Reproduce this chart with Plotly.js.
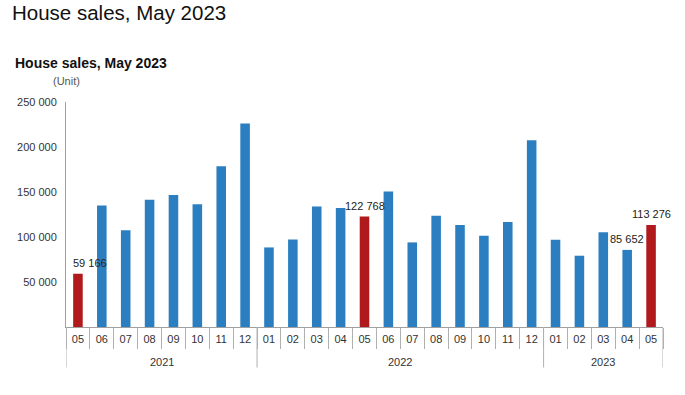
<!DOCTYPE html>
<html>
<head>
<meta charset="utf-8">
<script src="https://cdn.plot.ly/plotly-3.0.1.min.js"></script>
<style>
html,body{margin:0;padding:0;background:#fff;}
#chart{width:685px;height:395px;}
</style>
</head>
<body>
<div id="chart"></div>
<script>
var years = ['2021','2021','2021','2021','2021','2021','2021','2021',
  '2022','2022','2022','2022','2022','2022','2022','2022','2022','2022','2022','2022',
  '2023','2023','2023','2023','2023'];
var months = ['05','06','07','08','09','10','11','12',
  '01','02','03','04','05','06','07','08','09','10','11','12',
  '01','02','03','04','05'];
var sales = [59166,134957,107571,141381,146575,136317,178720,226202,
  88409,97270,133919,132089,122768,150509,94011,123500,113400,101300,116700,207500,
  97000,79200,105300,85652,113276];
var highlight = [true,false,false,false,false,false,false,false,
  false,false,false,false,true,false,false,false,false,false,false,false,
  false,false,false,false,true];
var labels = ['59 166','','','','','','','',
  '','','','','122 768','','','','','','','',
  '','','','85 652','113 276'];
var yTickVals = [50000,100000,150000,200000,250000];
var yTickText = ['50 000','100 000','150 000','200 000','250 000'];

var FONT = 'Liberation Sans, Arial, sans-serif';
var BLUE = '#2b7fc1', RED = '#b01a1c', GRID = '#b0b0b0';
var colors = highlight.map(function(h){ return h ? RED : BLUE; });
var ids = years.map(function(y, i){ return y + '-' + months[i]; });

var annotations = [];
labels.forEach(function(t, i){
  if (!t) return;
  annotations.push({
    x: ids[i], y: sales[i], xref: 'x', yref: 'y',
    text: t, showarrow: false, yanchor: 'bottom', yshift: 3,
    xshift: i === 0 ? 12 : 0,
    font: {family: FONT, size: 11, color: '#222'}
  });
});

// year groups: labels and dividers
var shapes = [];
var groups = [];
years.forEach(function(y, i){
  if (!groups.length || groups[groups.length - 1].year !== y) groups.push({year: y, start: i, end: i});
  else groups[groups.length - 1].end = i;
});
groups.forEach(function(g){
  annotations.push({
    x: (g.start + g.end) / 2, y: 0, xref: 'x', yref: 'paper',
    yshift: -35, yanchor: 'middle', showarrow: false, text: g.year,
    font: {family: FONT, size: 11, color: '#333'}
  });
  shapes.push({type: 'line', xref: 'x', yref: 'paper', x0: g.start - 0.5, x1: g.start - 0.5,
    y0: 0, y1: -0.18, line: {color: GRID, width: 1}});
});
var last = groups[groups.length - 1];
shapes.push({type: 'line', xref: 'x', yref: 'paper', x0: last.end + 0.5, x1: last.end + 0.5,
  y0: 0, y1: -0.18, line: {color: GRID, width: 1}});

annotations.push({
  xref: 'paper', yref: 'paper', x: -0.0888, y: 1.173, xanchor: 'left', yanchor: 'middle',
  text: '<b>House sales, May 2023</b>', showarrow: false,
  font: {family: FONT, size: 14, color: '#111'}
});
annotations.push({
  xref: 'paper', yref: 'paper', x: -0.0256, y: 1.093, xanchor: 'left', yanchor: 'middle',
  text: '(Unit)', showarrow: false,
  font: {family: FONT, size: 11, color: '#555'}
});

var trace = {
  type: 'bar',
  x: ids,
  y: sales,
  marker: {color: colors},
  hoverinfo: 'x+y'
};

var layout = {
  width: 685, height: 395,
  margin: {l: 66, r: 22, t: 102, b: 68},
  paper_bgcolor: '#fff', plot_bgcolor: '#fff',
  bargap: 0.6,
  showlegend: false,
  title: {
    text: 'House sales, May 2023',
    x: 0.0175, xanchor: 'left', xref: 'container',
    y: 0.968, yanchor: 'middle', yref: 'container',
    font: {family: FONT, size: 20.5, color: '#111'}
  },
  font: {family: FONT, size: 11, color: '#333'},
  xaxis: {
    type: 'category',
    range: [-0.5, ids.length - 0.5],
    tickvals: ids, ticktext: months,
    showline: true, linecolor: '#a0a0a0', linewidth: 1,
    ticks: 'outside', tickson: 'boundaries', ticklen: 21, tickcolor: GRID, tickwidth: 1,
    ticklabelstandoff: 2,
    tickfont: {size: 11, color: '#333'},
    showgrid: false, zeroline: false
  },
  yaxis: {
    range: [0, 250000],
    tickvals: yTickVals, ticktext: yTickText,
    showline: true, linecolor: '#a0a0a0', linewidth: 1,
    showgrid: false, zeroline: false,
    ticks: '', ticklabelstandoff: 6, tickfont: {size: 11, color: '#333'}
  },
  shapes: shapes,
  annotations: annotations
};

Plotly.newPlot('chart', [trace], layout, {displayModeBar: false, staticPlot: true});
</script>
</body>
</html>
